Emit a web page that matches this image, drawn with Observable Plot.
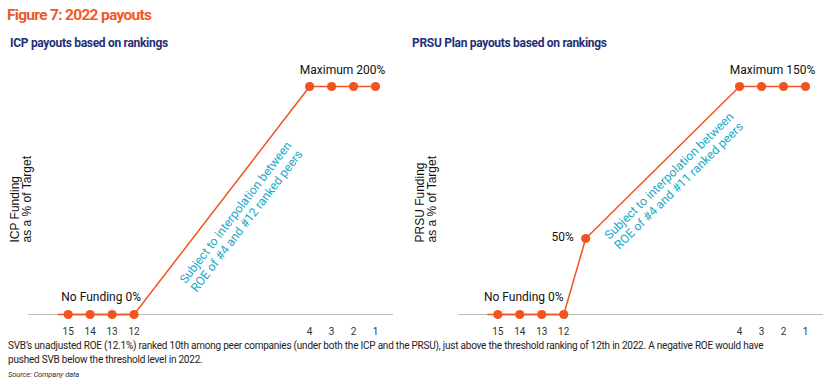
<!DOCTYPE html>
<html>
<head>
<meta charset="utf-8">
<script src="https://cdn.jsdelivr.net/npm/d3@7"></script>
<script src="https://cdn.jsdelivr.net/npm/@observablehq/plot@0.6"></script>
<style>
  body { margin: 0; background: #fff; }
  #wrap { position: relative; width: 830px; height: 388px; overflow: hidden; background: #fff; font-family: Roboto, sans-serif; }
  #title { position: absolute; left: 7px; top: 6px; font-size: 15.5px; font-weight: bold; color: #f05a28; line-height: 18px; letter-spacing: -0.7px; z-index: 2; white-space: nowrap; }
  .sub { position: absolute; top: 36px; font-size: 12px; font-weight: bold; color: #1f2f77; line-height: 15px; letter-spacing: -0.3px; z-index: 2; white-space: nowrap; }
  #cap { position: absolute; left: 8px; top: 339px; width: 822px; font-size: 10px; color: #222; line-height: 14px; letter-spacing: -0.22px; z-index: 2; white-space: nowrap; }
  #src { position: absolute; left: 8px; top: 370px; font-size: 7.5px; font-style: italic; color: #333; letter-spacing: -0.1px; z-index: 2; }
  .chart { position: absolute; top: 0; }
</style>
</head>
<body>
<div id="wrap">
  <div id="title">Figure 7: 2022 payouts</div>
  <div class="sub" style="left:10px">ICP payouts based on rankings</div>
  <div class="sub" style="left:412px">PRSU Plan payouts based on rankings</div>
  <div id="left" class="chart" style="left:0px"></div>
  <div id="right" class="chart" style="left:410px"></div>
  <div id="cap">SVB’s unadjusted ROE (12.1%) ranked 10th among peer companies (under both the ICP and the PRSU), just above the threshold ranking of 12th in 2022. A negative ROE would have<br>pushed SVB below the threshold level in 2022.</div>
  <div id="src">Source: Company data</div>
</div>
<script>
// ---- data ----
const icpRanks = [15, 14, 13, 12, 4, 3, 2, 1];
const icpPayout = [0, 0, 0, 0, 200, 200, 200, 200];
const prsuRanks = [15, 14, 13, 12, 11, 4, 3, 2, 1];
const prsuPayout = [0, 0, 0, 0, 50, 150, 150, 150, 150];
const tickRanks = [15, 14, 13, 12, 4, 3, 2, 1];
const tickLabels = ["15", "14", "13", "12", "4", "3", "2", "1"];

const ORANGE = "#f3541f";
const CYAN = "#1aa8c8";
const FONT = "Roboto, sans-serif";

function makeChart({ranks, payout, maxVal, yLabel, interpText, interpFrom, rot, idx50, opts}) {
  const data = ranks.map((r, i) => ({rank: r, value: payout[i]}));
  const zeros = data.filter(d => d.value === 0);
  const tops = data.filter(d => d.value === maxVal);
  const zeroMid = {rank: d3.mean(zeros, d => d.rank), value: 0};
  const topMid = {rank: d3.mean(tops, d => d.rank), value: maxVal};
  const a = data[interpFrom], b = tops[0];
  const slopeMid = {rank: (a.rank + b.rank) / 2, value: (a.value + b.value) / 2};
  const marks = [
    Plot.ruleY([0], {stroke: "#bdbdbd", strokeWidth: 1}),
    Plot.ruleY([0], {x1: zeros[0].rank, x2: zeros[zeros.length - 1].rank, stroke: ORANGE, strokeWidth: 1.5, insetLeft: -10}),
    Plot.line(data, {x: "rank", y: "value", stroke: ORANGE, strokeWidth: 1.5}),
    Plot.dot(data, {x: "rank", y: "value", r: 4.6, fill: ORANGE, stroke: null}),
    Plot.axisX(tickRanks, {tickSize: 0, tickPadding: 13, label: null, tickFormat: (d) => tickLabels[tickRanks.indexOf(d)], fontSize: 10, fill: "#333"}),
    Plot.text([zeroMid], {x: "rank", y: "value", text: () => "No Funding 0%", dy: -17, dx: opts.zeroDx, fontSize: 12, fill: "#111"}),
    Plot.text([topMid], {x: "rank", y: "value", text: () => "Maximum " + maxVal + "%", dy: -16, fontSize: 12, fill: "#111"}),
    Plot.text([slopeMid], {x: "rank", y: "value", text: () => interpText, rotate: rot, dx: opts.intDx, dy: opts.intDy, fontSize: 12.2, lineHeight: 1.15, fill: CYAN}),
    Plot.text([yLabel], {frameAnchor: "bottom-left", text: d => d, rotate: -90, textAnchor: "start", dx: opts.labDx, dy: -72, fontSize: 12, lineHeight: 1.0, fill: "#111", fontFamily: "Liberation Sans, Arial, sans-serif"})
  ];
  if (idx50 != null) {
    marks.push(Plot.text([data[idx50]], {x: "rank", y: "value", text: d => d.value + "%", textAnchor: "end", dx: -12, dy: -1, fontSize: 12, fill: "#111"}));
  }
  return Plot.plot({
    width: opts.width, height: 345,
    marginLeft: opts.ml, marginRight: opts.mr, marginTop: 86, marginBottom: 31,
    style: {background: "transparent", fontFamily: FONT, overflow: "visible"},
    x: {domain: [15, 1], range: opts.xr, axis: null},
    y: {domain: [0, maxVal], range: [314, 86], axis: null},
    marks
  });
}

document.getElementById("left").append(makeChart({
  ranks: icpRanks, payout: icpPayout, maxVal: 200,
  yLabel: "ICP Funding\nas a % of Target",
  interpText: "Subject to interpolation between\nROE of #4 and #12 ranked peers",
  interpFrom: 3, rot: -52.5, idx50: null,
  opts: {width: 410, ml: 28, mr: 17, xr: [67.7, 375], zeroDx: 0, intDx: 19, intDy: 16, labDx: 2}
}));

document.getElementById("right").append(makeChart({
  ranks: prsuRanks, payout: prsuPayout, maxVal: 150,
  yLabel: "PRSU Funding\nas a % of Target",
  interpText: "Subject to interpolation between\nROE of #4 and #11 ranked peers",
  interpFrom: 4, rot: -44.5, idx50: 4,
  opts: {width: 420, ml: 48, mr: 7, xr: [87.3, 395], zeroDx: -7, intDx: 11, intDy: 18, labDx: -23}
}));
</script>
</body>
</html>
